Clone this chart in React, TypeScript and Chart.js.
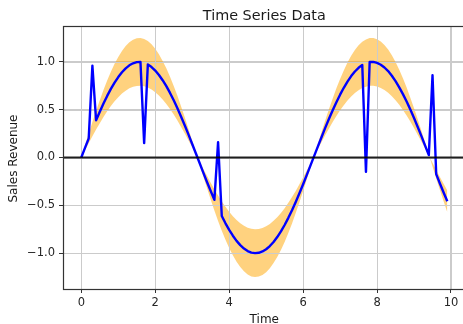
import React, { useEffect, useRef } from 'react';
import { Chart, registerables } from 'chart.js';

Chart.register(...registerables);

// ---- data ----
const times = [
  0.0, 0.1, 0.2, 0.3, 0.4, 0.5, 0.6, 0.7, 0.8, 0.9,
  1.0, 1.1, 1.2, 1.3, 1.4, 1.5, 1.6, 1.7, 1.8, 1.9,
  2.0, 2.1, 2.2, 2.3, 2.4, 2.5, 2.6, 2.7, 2.8, 2.9,
  3.0, 3.1, 3.2, 3.3, 3.4, 3.5, 3.6, 3.7, 3.8, 3.9,
  4.0, 4.1, 4.2, 4.3, 4.4, 4.5, 4.6, 4.7, 4.8, 4.9,
  5.0, 5.1, 5.2, 5.3, 5.4, 5.5, 5.6, 5.7, 5.8, 5.9,
  6.0, 6.1, 6.2, 6.3, 6.4, 6.5, 6.6, 6.7, 6.8, 6.9,
  7.0, 7.1, 7.2, 7.3, 7.4, 7.5, 7.6, 7.7, 7.8, 7.9,
  8.0, 8.1, 8.2, 8.3, 8.4, 8.5, 8.6, 8.7, 8.8, 8.9,
  9.0, 9.1, 9.2, 9.3, 9.4, 9.5, 9.6, 9.7, 9.8, 9.9,
];

const salesRevenue = [
  0.000, 0.100, 0.199, 0.960, 0.389, 0.479, 0.565, 0.644, 0.717, 0.783,
  0.841, 0.891, 0.932, 0.964, 0.985, 0.997, 1.000, 0.150, 0.974, 0.946,
  0.909, 0.863, 0.808, 0.746, 0.675, 0.598, 0.516, 0.427, 0.335, 0.239,
  0.141, 0.042, -0.058, -0.158, -0.256, -0.351, -0.443, 0.160, -0.612, -0.688,
  -0.757, -0.818, -0.872, -0.916, -0.952, -0.978, -0.994, -1.000, -0.996, -0.982,
  -0.959, -0.926, -0.883, -0.832, -0.773, -0.706, -0.631, -0.551, -0.465, -0.374,
  -0.279, -0.182, -0.083, 0.017, 0.117, 0.215, 0.312, 0.405, 0.494, 0.578,
  0.657, 0.729, 0.794, 0.851, 0.899, 0.938, 0.968, -0.150, 0.999, 0.999,
  0.989, 0.970, 0.941, 0.904, 0.855, 0.798, 0.734, 0.663, 0.585, 0.501,
  0.412, 0.319, 0.223, 0.124, 0.025, 0.860, -0.174, -0.272, -0.366, -0.458,
];

const bandUpper = [
  0.000, 0.125, 0.249, 0.370, 0.486, 0.599, 0.706, 0.805, 0.896, 0.979,
  1.051, 1.114, 1.165, 1.205, 1.231, 1.246, 1.250, 1.240, 1.218, 1.183,
  1.136, 1.079, 1.010, 0.933, 0.844, 0.748, 0.645, 0.534, 0.419, 0.299,
  0.176, 0.053, -0.073, -0.198, -0.320, -0.439, -0.554, -0.663, -0.765, -0.860,
  -0.946, -1.023, -1.090, -1.145, -1.190, -1.223, -1.243, -1.250, -1.245, -1.228,
  -1.199, -1.158, -1.104, -1.040, -0.966, -0.883, -0.789, -0.689, -0.581, -0.468,
  -0.349, -0.228, -0.104, 0.021, 0.146, 0.269, 0.390, 0.506, 0.618, 0.723,
  0.821, 0.911, 0.993, 1.064, 1.124, 1.173, 1.210, 1.235, 1.249, 1.249,
  1.236, 1.213, 1.176, 1.130, 1.069, 0.998, 0.918, 0.829, 0.731, 0.626,
  0.515, 0.399, 0.279, 0.155, 0.031, -0.094, -0.218, -0.340, -0.458, -0.573,
];

const bandLower = [
  0.000, 0.075, 0.149, 0.222, 0.292, 0.359, 0.424, 0.483, 0.538, 0.587,
  0.631, 0.668, 0.699, 0.723, 0.739, 0.748, 0.750, 0.744, 0.731, 0.710,
  0.682, 0.647, 0.606, 0.560, 0.506, 0.449, 0.387, 0.320, 0.251, 0.179,
  0.106, 0.032, -0.044, -0.119, -0.192, -0.263, -0.332, -0.398, -0.459, -0.516,
  -0.568, -0.614, -0.654, -0.687, -0.714, -0.734, -0.746, -0.750, -0.747, -0.737,
  -0.719, -0.695, -0.662, -0.624, -0.580, -0.530, -0.473, -0.413, -0.349, -0.281,
  -0.209, -0.137, -0.062, 0.013, 0.088, 0.161, 0.234, 0.304, 0.371, 0.434,
  0.493, 0.547, 0.596, 0.638, 0.674, 0.704, 0.726, 0.741, 0.749, 0.749,
  0.742, 0.728, 0.706, 0.678, 0.641, 0.599, 0.551, 0.497, 0.439, 0.376,
  0.309, 0.239, 0.167, 0.093, 0.019, -0.056, -0.131, -0.204, -0.275, -0.344,
];

const xTicks = [0, 2, 4, 6, 8, 10];
const xTickLabels = ['0', '2', '4', '6', '8', '10'];
const yTicks = [-1.0, -0.5, 0.0, 0.5, 1.0];
const yTickLabels = ['\u22121.0', '\u22120.5', '0.0', '0.5', '1.0'];
const xLimits = [-0.495, 10.395];
const yLimits = [-1.375, 1.375];
const referenceLevel = 0;

const titleText = 'Time Series Data';
const xAxisLabel = 'Time';
const yAxisLabel = 'Sales Revenue';

// ---- layout constants ----
const CANVAS_W = 480;
const CANVAS_H = 330;
const AREA_LEFT = 63;
const AREA_TOP = 26;
const AREA_RIGHT = 465.6;
const AREA_BOTTOM = 289;
const FONT = '"DejaVu Sans", sans-serif';
const GRID_COLOR = '#cbcbcb';

const BAND_INDEX = 2;

const decorPlugin = {
  id: 'decor',
  afterDatasetDraw(chart: any, args: any) {
    if (args.index !== BAND_INDEX) return;
    const { ctx, chartArea: a, scales } = chart;
    const x = scales.x;
    const y = scales.y;
    ctx.save();
    ctx.strokeStyle = GRID_COLOR;
    ctx.lineWidth = 1;
    ctx.beginPath();
    for (const v of xTicks) {
      const px = Math.round(x.getPixelForValue(v)) + 0.5;
      ctx.moveTo(px, a.top);
      ctx.lineTo(px, a.bottom);
    }
    for (const v of yTicks) {
      const py = Math.round(y.getPixelForValue(v)) + 0.5;
      ctx.moveTo(a.left, py);
      ctx.lineTo(a.right, py);
    }
    ctx.stroke();
    ctx.restore();
  },
  afterDraw(chart: any) {
    const { ctx, chartArea: a } = chart;
    ctx.save();
    // spines
    ctx.strokeStyle = '#333';
    ctx.lineWidth = 1.2;
    const l = Math.round(a.left) + 0.5;
    const t = Math.round(a.top) + 0.5;
    const r = Math.round(a.right) + 0.5;
    const b = Math.round(a.bottom) + 0.5;
    ctx.strokeRect(l, t, r - l, b - t);
    // texts
    const cx = (a.left + a.right) / 2;
    const cy = (a.top + a.bottom) / 2;
    ctx.fillStyle = '#1a1a1a';
    ctx.textAlign = 'center';
    ctx.textBaseline = 'alphabetic';
    ctx.font = `14.4px ${FONT}`;
    ctx.fillText(titleText, cx, 20);
    ctx.font = `12px ${FONT}`;
    ctx.fillText(xAxisLabel, cx, 323);
    ctx.translate(17, cy + 1);
    ctx.rotate(-Math.PI / 2);
    ctx.fillText(yAxisLabel, 0, 0);
    ctx.restore();
  },
};

export default function App() {
  const canvasRef = useRef<HTMLCanvasElement | null>(null);

  useEffect(() => {
    const canvas = canvasRef.current;
    if (!canvas) return;
    const points = (ys: number[]) => times.map((t, i) => ({ x: t, y: ys[i] }));

    const chart = new Chart(canvas, {
      type: 'line',
      data: {
        datasets: [
          {
            label: 'zero',
            data: [
              { x: xLimits[0], y: referenceLevel },
              { x: xLimits[1], y: referenceLevel },
            ],
            borderColor: 'rgba(0,0,0,0.85)',
            borderWidth: 1.8,
            pointRadius: 0,
            fill: false,
          },
          {
            label: 'Sales Revenue',
            data: points(salesRevenue),
            borderColor: '#0000ff',
            borderWidth: 2.4,
            borderJoinStyle: 'round',
            pointRadius: 0,
            fill: false,
          },
          {
            label: 'upper',
            data: points(bandUpper),
            borderWidth: 0,
            borderColor: 'rgba(0,0,0,0)',
            backgroundColor: 'rgba(255,165,0,0.5)',
            pointRadius: 0,
            fill: '+1',
          },
          {
            label: 'lower',
            data: points(bandLower),
            borderWidth: 0,
            borderColor: 'rgba(0,0,0,0)',
            pointRadius: 0,
            fill: false,
          },
        ],
      },
      options: {
        responsive: false,
        maintainAspectRatio: false,
        animation: false,
        devicePixelRatio: 1,
        layout: {
          padding: { left: 0, top: AREA_TOP, right: CANVAS_W - AREA_RIGHT, bottom: 0 },
        },
        elements: { line: { tension: 0 }, point: { radius: 0 } },
        plugins: {
          legend: { display: false },
          title: { display: false },
          tooltip: { enabled: false },
        },
        scales: {
          x: {
            type: 'linear',
            min: xLimits[0],
            max: xLimits[1],
            afterBuildTicks: (s: any) => {
              s.ticks = xTicks.map((v) => ({ value: v }));
            },
            afterFit: (s: any) => {
              s.height = CANVAS_H - AREA_BOTTOM;
            },
            border: { display: false },
            grid: {
              color: GRID_COLOR,
              lineWidth: 1,
              tickColor: '#333',
              tickLength: 4,
              tickWidth: 1,
            },
            ticks: {
              autoSkip: false,
              maxRotation: 0,
              padding: 3,
              color: '#262626',
              font: { family: FONT, size: 11.5 },
              callback: (_v: any, i: number) => xTickLabels[i],
            },
          },
          y: {
            type: 'linear',
            min: yLimits[0],
            max: yLimits[1],
            afterBuildTicks: (s: any) => {
              s.ticks = yTicks.map((v) => ({ value: v }));
            },
            afterFit: (s: any) => {
              s.width = AREA_LEFT;
            },
            border: { display: false },
            grid: {
              color: GRID_COLOR,
              lineWidth: 1,
              tickColor: '#333',
              tickLength: 4,
              tickWidth: 1,
            },
            ticks: {
              autoSkip: false,
              padding: 4,
              color: '#262626',
              font: { family: FONT, size: 11.5 },
              callback: (_v: any, i: number) => yTickLabels[i],
            },
          },
        },
      },
      plugins: [decorPlugin],
    } as any);

    return () => chart.destroy();
  }, []);

  return (
    <div
      style={{
        position: 'fixed',
        left: 0,
        top: 0,
        width: 463,
        height: 324,
        overflow: 'hidden',
        background: '#fff',
      }}
    >
      <canvas
        ref={canvasRef}
        width={CANVAS_W}
        height={CANVAS_H}
        style={{ display: 'block', width: CANVAS_W, height: CANVAS_H }}
      />
    </div>
  );
}
